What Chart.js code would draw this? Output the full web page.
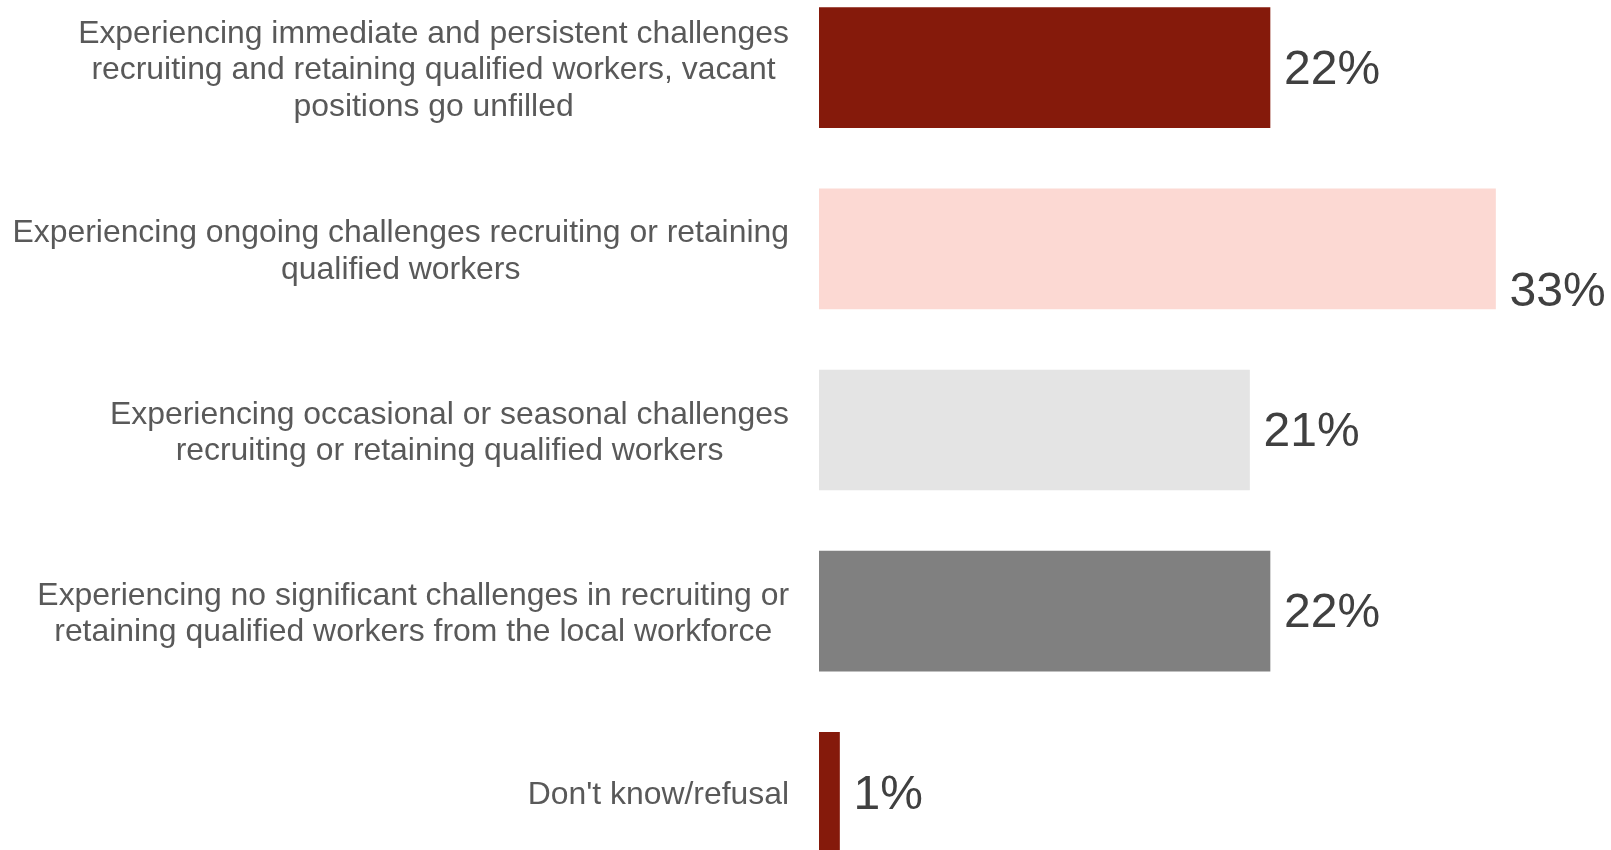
<!DOCTYPE html>
<html>
<head>
<meta charset="utf-8">
<script src="https://cdn.jsdelivr.net/npm/chart.js@4/dist/chart.umd.min.js"></script>
<style>
  html, body { margin: 0; padding: 0; background: #ffffff; overflow: hidden; }
  #wrap { position: relative; width: 1611px; height: 850px; overflow: hidden; }
  #c { position: absolute; left: 0; top: -23px; }
</style>
</head>
<body>
<div id="wrap"><canvas id="c" width="1611" height="906"></canvas></div>
<script>
const categories = [
  ["Experiencing immediate and persistent challenges", "recruiting and retaining qualified workers, vacant", "positions go unfilled"],
  ["Experiencing ongoing challenges recruiting or retaining", "qualified workers"],
  ["Experiencing occasional or seasonal challenges", "recruiting or retaining qualified workers"],
  ["Experiencing no significant challenges in recruiting or", "retaining qualified workers from the local workforce"],
  ["Don't know/refusal"]
];
const values = [22, 33, 21, 22, 1];
const valueLabels = ["22%", "33%", "21%", "22%", "1%"];

const barColors = ["#851A0B", "#FCD9D3", "#E4E4E4", "#808080", "#851A0B"];
const FONT = "'Liberation Sans', Arial, Helvetica, sans-serif";

const labelPlugin = {
  id: 'labelPlugin',
  afterDatasetsDraw(chart) {
    const ctx = chart.ctx;
    const yScale = chart.scales.y;
    const area = chart.chartArea;
    const meta = chart.getDatasetMeta(0);
    ctx.save();
    // category labels: block right-aligned, lines centered within block
    ctx.font = "31.9px " + FONT;
    ctx.fillStyle = "#595959";
    ctx.textAlign = "center";
    ctx.textBaseline = "middle";
    const rightEdge = area.left - 30;
    const lineH = 36.3;
    categories.forEach((lines, i) => {
      const yc = yScale.getPixelForValue(i) + 3;
      let maxW = 0;
      lines.forEach(l => { maxW = Math.max(maxW, ctx.measureText(l).width); });
      const cx = rightEdge - maxW / 2;
      lines.forEach((l, j) => {
        ctx.fillText(l, cx, yc + (j - (lines.length - 1) / 2) * lineH);
      });
    });
    // value labels
    ctx.font = "48px " + FONT;
    ctx.fillStyle = "#404040";
    ctx.textAlign = "left";
    meta.data.forEach((bar, i) => {
      const txt = valueLabels[i];
      const x = bar.x + 14;
      let y = bar.y + 3;
      const w = ctx.measureText(txt).width;
      if (x + w > area.right) y += 41;
      ctx.fillText(txt, x, y);
    });
    ctx.restore();
  }
};

new Chart(document.getElementById('c'), {
  type: 'bar',
  data: {
    labels: categories,
    datasets: [{
      data: values,
      backgroundColor: barColors,
      borderWidth: 0,
      barThickness: 120
    }]
  },
  options: {
    indexAxis: 'y',
    responsive: false,
    animation: false,
    events: [],
    layout: { padding: { left: 819, right: 13, top: 0, bottom: 0 } },
    plugins: { legend: { display: false }, tooltip: { enabled: false } },
    scales: {
      x: { min: 0, max: 38, display: false, grid: { display: false } },
      y: { display: false, grid: { display: false }, offset: true }
    }
  },
  plugins: [labelPlugin]
});
</script>
</body>
</html>
